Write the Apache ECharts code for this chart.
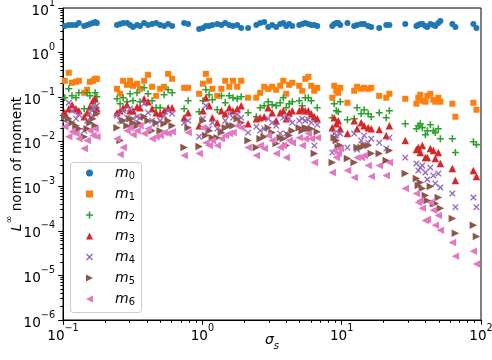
<!DOCTYPE html>
<html>
<head>
<meta charset="utf-8">
<script src="https://cdn.jsdelivr.net/npm/echarts@6/dist/echarts.min.js"></script>
<style>
  html, body { margin: 0; padding: 0; background: #fff; }
  #chart { width: 492px; height: 360px; }
</style>
</head>
<body>
<div id="chart"></div>
<script>
// sigma_s of each sample (same for every moment)
var sigma = [
  0.103,0.110,0.116,0.124,0.130,0.142,0.149,0.156,0.164,0.170,
  0.175,0.244,0.257,0.270,0.288,0.303,0.318,0.340,0.357,0.382,
  0.408,0.436,0.466,0.498,0.532,0.568,0.607,0.740,0.791,0.948,
  1.01,1.06,1.12,1.18,1.28,1.37,1.46,1.56,1.66,1.78,
  1.90,2.13,2.44,2.60,2.78,2.97,3.17,3.39,3.62,3.81,
  4.00,4.20,4.42,4.96,5.21,5.48,5.76,6.05,6.36,6.68,
  8.56,8.85,9.15,9.45,9.77,11.0,12.3,12.9,13.8,14.5,
  15.5,16.3,18.6,20.9,22.0,28.6,34.4,35.5,36.7,37.9,
  39.9,41.2,43.3,45.5,47.0,49.4,51.1,62.3,65.5,88.2,
  92.7
];

var m0 = [
  3.96,4.17,4.17,4.17,4.62,3.96,4.17,4.39,4.62,4.86,
  4.62,4.17,4.39,4.62,4.62,4.17,3.76,4.17,3.96,4.62,
  4.17,4.39,4.62,4.17,3.96,4.39,3.96,4.62,4.39,3.39,
  3.57,3.96,3.96,4.17,4.39,4.17,4.62,4.17,3.96,4.17,
  3.57,3.57,4.17,4.62,4.86,3.76,4.17,3.76,4.39,4.62,
  3.96,4.39,3.96,4.17,4.39,4.62,4.39,4.17,4.17,3.96,
  3.96,4.39,4.62,4.62,4.17,4.62,3.96,4.17,4.39,4.39,
  3.96,3.76,3.57,4.17,4.17,4.39,3.96,4.17,4.39,4.39,
  3.96,3.76,4.39,4.17,3.96,4.62,5.12,4.39,3.76,4.39,
  3.57
];
var m1 = [
  0.233,0.352,0.210,0.221,0.233,0.125,0.146,0.221,0.233,0.258,
  0.258,0.154,0.119,0.233,0.189,0.233,0.180,0.200,0.154,0.233,
  0.317,0.171,0.107,0.154,0.171,0.334,0.258,0.162,0.162,0.119,
  0.200,0.334,0.233,0.154,0.107,0.154,0.233,0.171,0.233,0.171,
  0.233,0.097,0.097,0.125,0.171,0.154,0.171,0.146,0.180,0.233,
  0.119,0.189,0.210,0.180,0.139,0.258,0.286,0.180,0.139,0.162,
  0.097,0.180,0.139,0.125,0.162,0.0749,0.139,0.171,0.154,0.162,
  0.154,0.162,0.107,0.097,0.119,0.092,0.0712,0.097,0.113,0.0831,
  0.0789,0.107,0.119,0.0875,0.0789,0.097,0.0789,0.0712,0.0364,0.0749,
  0.0522
];
var m2 = [
  0.097,0.154,0.107,0.097,0.125,0.055,0.125,0.107,0.0579,0.125,
  0.102,0.092,0.0712,0.097,0.0789,0.119,0.0831,0.125,0.0789,0.162,
  0.119,0.0831,0.0579,0.0579,0.113,0.146,0.125,0.055,0.0831,0.0471,
  0.0831,0.146,0.113,0.0875,0.0522,0.107,0.0749,0.107,0.097,0.092,
  0.102,0.0448,0.0364,0.0579,0.0642,0.0789,0.0676,0.0642,0.0749,0.097,
  0.0579,0.0712,0.0789,0.0831,0.0642,0.097,0.097,0.0831,0.0346,0.0579,
  0.0346,0.0712,0.0496,0.0471,0.0789,0.0312,0.0329,0.0579,0.0425,0.0522,
  0.0425,0.0364,0.0448,0.0346,0.0496,0.0254,0.0196,0.0229,0.0254,0.0207,
  0.0144,0.0177,0.0241,0.0177,0.016,0.0196,0.0117,0.0117,0.00571,0.01,
  0.00861
];
var m3 = [
  0.0448,0.055,0.0676,0.055,0.0496,0.0364,0.0448,0.061,0.0831,0.092,
  0.055,0.0448,0.0496,0.0579,0.0676,0.0496,0.0496,0.061,0.0579,0.092,
  0.0789,0.055,0.0448,0.0425,0.0496,0.0579,0.0579,0.0346,0.0448,0.0229,
  0.0496,0.097,0.0642,0.0346,0.0268,0.0496,0.0425,0.0579,0.0496,0.055,
  0.0642,0.0254,0.0329,0.0346,0.0364,0.0579,0.0448,0.0296,0.0448,0.0496,
  0.0329,0.0448,0.0496,0.0496,0.055,0.0496,0.0496,0.0425,0.0364,0.0329,
  0.0207,0.0346,0.0254,0.0296,0.0196,0.0152,0.0296,0.0196,0.0268,0.0229,
  0.0207,0.0196,0.0187,0.0137,0.0229,0.0106,0.00666,0.00738,0.00571,0.00818,
  0.00441,0.00441,0.00701,0.00632,0.00419,0.00571,0.00324,0.0025,0.00135,0.00226,
  0.00166
];
var m4 = [
  0.0296,0.0749,0.0496,0.0329,0.0404,0.0177,0.0296,0.0448,0.0579,0.0425,
  0.0642,0.0384,0.0296,0.0496,0.0346,0.055,0.0329,0.0364,0.0346,0.0712,
  0.0448,0.0296,0.0254,0.0296,0.0384,0.0496,0.0425,0.0268,0.0296,0.013,
  0.0329,0.0642,0.0196,0.0268,0.0196,0.0177,0.0296,0.0425,0.0346,0.0404,
  0.0346,0.016,0.0218,0.0177,0.0196,0.0329,0.0268,0.0229,0.0152,0.0346,
  0.0152,0.0329,0.0268,0.0296,0.0329,0.0296,0.0312,0.0268,0.00818,0.0241,
  0.00571,0.0152,0.0137,0.00701,0.0152,0.00738,0.0152,0.00666,0.0106,0.0137,
  0.00954,0.0117,0.00954,0.00701,0.0123,0.00441,0.00324,0.00226,0.00263,0.00292,
  0.00204,0.00142,0.00263,0.00174,0.00116,0.00193,0.00094,0.00069,0.00034,0.00056,
  0.00034
];
var m5 = [
  0.0364,0.0329,0.0268,0.0229,0.0196,0.013,0.0196,0.0268,0.0329,0.0229,
  0.0425,0.0207,0.0106,0.0296,0.0229,0.0329,0.0268,0.0229,0.0254,0.0364,
  0.0296,0.0177,0.0268,0.0177,0.0254,0.0296,0.0229,0.00738,0.0207,0.00777,
  0.0296,0.0137,0.0177,0.0123,0.0123,0.016,0.0207,0.0229,0.0229,0.0329,
  0.0268,0.0106,0.00738,0.0117,0.013,0.0207,0.016,0.00907,0.0123,0.0117,
  0.00818,0.0137,0.0177,0.0207,0.0177,0.0207,0.0196,0.0196,0.00542,0.0168,
  0.00341,0.0123,0.0106,0.00738,0.00818,0.00419,0.00341,0.00738,0.00738,0.00818,
  0.00818,0.00542,0.00542,0.00378,0.00632,0.00193,0.00149,0.00104,0.00122,0.00089,
  0.00062,0.00048,0.00099,0.00041,0.00041,0.00056,0.00032,0.00019,0.000088,0.000133,
  0.000075
];
var m6 = [
  0.0218,0.013,0.0168,0.0152,0.0117,0.00701,0.0106,0.0177,0.0137,0.0196,
  0.013,0.0117,0.00515,0.00738,0.0177,0.0207,0.0144,0.0177,0.0229,0.0152,
  0.0196,0.0117,0.013,0.0137,0.016,0.0152,0.0168,0.00489,0.016,0.00542,
  0.0207,0.00954,0.00818,0.0106,0.00818,0.0117,0.0137,0.0152,0.016,0.0229,
  0.0207,0.00738,0.00489,0.00818,0.00701,0.0137,0.0106,0.00542,0.00738,0.00818,
  0.00441,0.0106,0.00954,0.0123,0.00818,0.0117,0.0152,0.0117,0.00341,0.0123,
  0.00204,0.00632,0.00441,0.00542,0.00701,0.00226,0.00157,0.00441,0.00441,0.00489,
  0.00292,0.00166,0.00292,0.00174,0.00341,0.00089,0.00069,0.00043,0.00048,0.00032,
  0.00017,0.00018,0.00043,0.00029,0.000133,0.00022,0.000103,0.000055,0.000027,0.000035,
  0.000018
];

var names = ['m0', 'm1', 'm2', 'm3', 'm4', 'm5', 'm6'];
var xTicks = [0.1, 1, 10, 100];
var yTicks = [1e-6, 1e-5, 1e-4, 1e-3, 1e-2, 1e-1, 1, 10];

// minor log ticks 2..9 in every decade
function minorTicks(majors) {
    var out = [];
    for (var i = 0; i < majors.length - 1; i++) {
        for (var k = 2; k <= 9; k++) out.push(majors[i] * k);
    }
    return out;
}

var FONT = 'DejaVu Sans';
var colors = ['#1f77b4', '#ff7f0e', '#2ca02c', '#d62728', '#9467bd', '#8c564b', '#e377c2'];
var symbols = [
    'circle',
    'rect',
    'path://M3.9,0H6.1V3.9H10V6.1H6.1V10H3.9V6.1H0V3.9H3.9Z',
    'triangle',
    'path://M0,1.4L1.4,0L5,3.6L8.6,0L10,1.4L6.4,5L10,8.6L8.6,10L5,6.4L1.4,10L0,8.6L3.6,5Z',
    'path://M0,0L10,5L0,10Z',
    'path://M10,0L0,5L10,10Z'
];
var sizes = [6, 6, 7, 7.5, 6.5, 7.5, 7.5];
var values = [m0, m1, m2, m3, m4, m5, m6];

function pow10Label(v) {
    var e = Math.round(Math.log10(v));
    return '{b|10}{s|' + String(e).replace('-', '\u2212') + '}';
}
var labelRich = {
    b: { fontFamily: FONT, fontSize: 13.6, color: '#000', lineHeight: 20, verticalAlign: 'bottom' },
    s: { fontFamily: FONT, fontSize: 9.6, color: '#000', lineHeight: 10, verticalAlign: 'top' }
};

var series = names.map(function (n, i) {
    return {
        name: n,
        type: 'scatter',
        xAxisIndex: 0,
        yAxisIndex: 0,
        symbol: symbols[i],
        symbolSize: sizes[i],
        itemStyle: { color: colors[i], opacity: 1 },
        data: sigma.map(function (s, j) { return [s, values[i][j]]; })
    };
});

var chart = echarts.init(document.getElementById('chart'));
chart.setOption({
    animation: false,
    backgroundColor: '#fff',
    grid: {
        left: 63, right: 11, top: 8, bottom: 40,
        outerBoundsMode: 'none', containLabel: false,
        show: true, borderColor: '#000', borderWidth: 1, backgroundColor: 'transparent'
    },
    xAxis: [{
        type: 'log', logBase: 10, min: 0.1, max: 100,
        axisLine: { show: true, lineStyle: { color: '#000', width: 1 } },
        axisTick: { show: true, length: 4.8, customValues: xTicks, lineStyle: { color: '#000', width: 1 } },
        axisLabel: { customValues: xTicks, margin: 3, formatter: pow10Label, rich: labelRich },
        splitLine: { show: false }
    }, {
        type: 'log', logBase: 10, min: 0.1, max: 100, position: 'bottom',
        axisLine: { show: false },
        axisTick: { show: true, length: 2.75, customValues: minorTicks(xTicks), lineStyle: { color: '#000', width: 1 } },
        axisLabel: { show: false },
        splitLine: { show: false }
    }],
    yAxis: [{
        type: 'log', logBase: 10, min: 1e-6, max: 10,
        axisLine: { show: true, lineStyle: { color: '#000', width: 1 } },
        axisTick: { show: true, length: 4.8, customValues: yTicks, lineStyle: { color: '#000', width: 1 } },
        axisLabel: { customValues: yTicks, margin: 8, formatter: pow10Label, rich: labelRich },
        splitLine: { show: false }
    }, {
        type: 'log', logBase: 10, min: 1e-6, max: 10, position: 'left',
        axisLine: { show: false },
        axisTick: { show: true, length: 2.75, customValues: minorTicks(yTicks), lineStyle: { color: '#000', width: 1 } },
        axisLabel: { show: false },
        splitLine: { show: false }
    }],
    legend: {
        orient: 'vertical', left: 86, top: 165, z: 60, padding: 0,
        itemWidth: 7, itemHeight: 7, itemGap: 5,
        data: names,
        formatter: function (n) { return '{m|m}{d|' + n.slice(1) + '}'; },
        textStyle: { rich: {
            m: { fontFamily: FONT, fontSize: 14, fontStyle: 'italic', color: '#000', lineHeight: 16, padding: [0, 0, 0, 17] },
            d: { fontFamily: FONT, fontSize: 9.8, color: '#000', lineHeight: 10, padding: [6, 0, 0, 0] }
        } }
    },
    graphic: [{
        type: 'rect', z: 50,
        shape: { x: 70.5, y: 162.5, width: 71, height: 150, r: 3 },
        style: { fill: 'rgba(255,255,255,0.8)', stroke: '#cccccc', lineWidth: 1 }
    }, {
        // x axis title
        type: 'text', z: 50, x: 272, y: 342,
        style: {
            text: '{i|\u03c3}{sub|s}', align: 'center', verticalAlign: 'middle',
            rich: {
                i: { fontFamily: FONT, fontSize: 14, fontStyle: 'italic', fill: '#000', lineHeight: 18, verticalAlign: 'top' },
                sub: { fontFamily: FONT, fontSize: 10, fontStyle: 'italic', fill: '#000', lineHeight: 10, verticalAlign: 'bottom' }
            }
        }
    }, {
        // y axis title
        type: 'text', z: 50, x: 14.5, y: 164, rotation: Math.PI / 2,
        style: {
            text: '{i|L}{sup|\u221e}{r| norm of moment}', align: 'center', verticalAlign: 'middle',
            rich: {
                i: { fontFamily: FONT, fontSize: 13.6, fontStyle: 'italic', fill: '#000', lineHeight: 20, verticalAlign: 'bottom' },
                sup: { fontFamily: FONT, fontSize: 9.6, fill: '#000', lineHeight: 10, verticalAlign: 'top' },
                r: { fontFamily: FONT, fontSize: 13.6, fill: '#000', lineHeight: 20, verticalAlign: 'bottom' }
            }
        }
    }],
    series: series
});
</script>
</body>
</html>
